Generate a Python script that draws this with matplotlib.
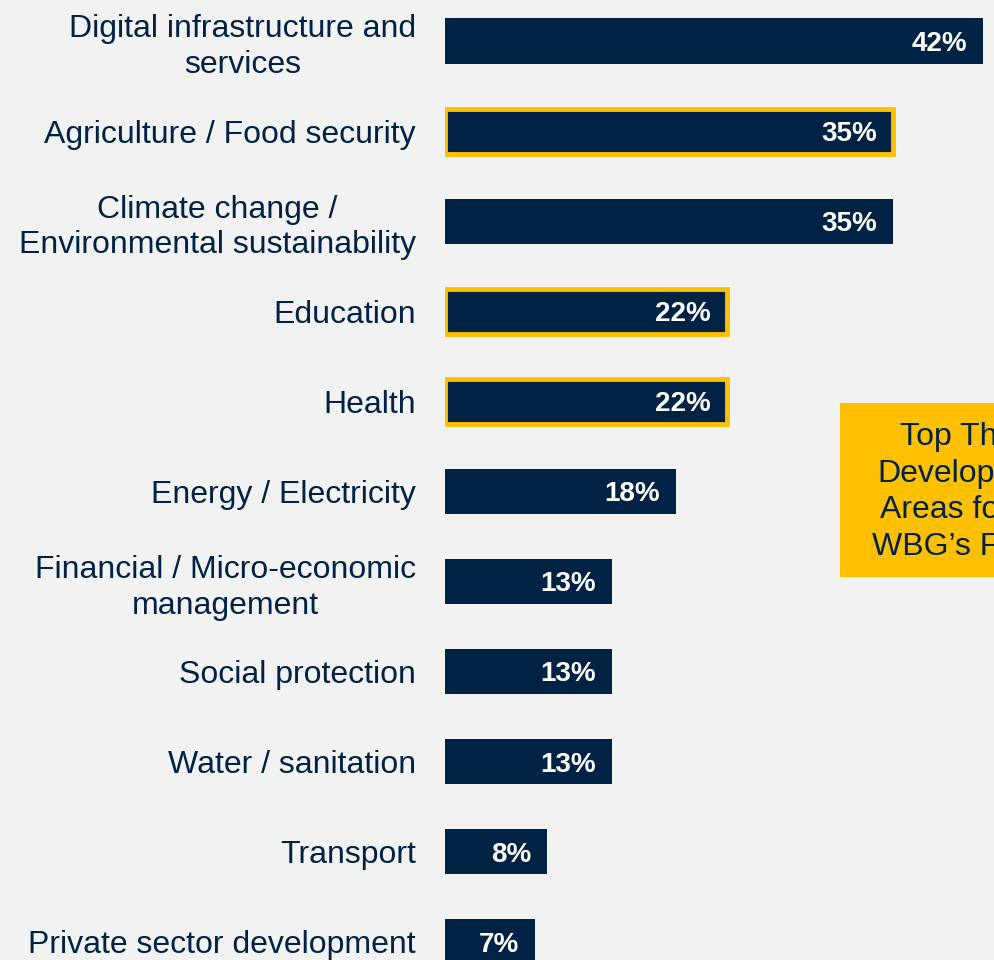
import matplotlib
matplotlib.use("Agg")
import matplotlib.pyplot as plt
from matplotlib.patches import Rectangle

# data
areas = [
    "Digital infrastructure and\nservices",
    "Agriculture / Food security",
    "Climate change /\nEnvironmental sustainability",
    "Education",
    "Health",
    "Energy / Electricity",
    "Financial / Micro-economic\nmanagement",
    "Social protection",
    "Water / sanitation",
    "Transport",
    "Private sector development",
]
shares = [42, 35, 35, 22, 22, 18, 13, 13, 13, 8, 7]
top_three = ["Agriculture / Food security", "Education", "Health"]
callout = "Top Three\nDevelopment\nAreas for the\nWBG\u2019s Future"

navy = "#002244"
gold = "#FFC000"
bg = "#F2F2F2"

plt.rcParams["font.family"] = ["Liberation Sans", "DejaVu Sans"]

W, H = 994, 960
fig = plt.figure(figsize=(W / 100, H / 100), dpi=100)
fig.patch.set_facecolor(bg)

px_per_pct = (983 - 445) / 42.0
ax = fig.add_axes([445 / W, 0, (W - 445) / W, 1])
ax.set_facecolor(bg)

y = list(range(len(areas)))
edge = [gold if a in top_three else navy for a in areas]
lw = [3.5 if a in top_three else 0 for a in areas]
ax.barh(y, shares, height=0.5, color=navy, edgecolor=edge, linewidth=lw)

for yi, v in zip(y, shares):
    ax.annotate(f"{v}%", (v, yi), xytext=(-11.5, -2), textcoords="offset points",
                ha="right", va="center", color="white", fontsize=20,
                fontweight="bold")

ax.set_xlim(0, (W - 445) / px_per_pct)
spacing = 90.1
ax.set_ylim((H - 41) / spacing, -41 / spacing)

ax.set_yticks(y)
ax.set_yticklabels(areas, fontsize=23, color=navy)
for t in ax.get_yticklabels():
    t.set_multialignment("center")
    t.set_linespacing(1.25)
ax.tick_params(axis="y", length=0, pad=21)
ax.set_xticks([])
for s in ax.spines.values():
    s.set_visible(False)

# callout box, runs off the right edge as in the source slide
fig.patches.append(Rectangle((840 / W, (H - 577) / H), 200 / W, 174 / H,
                             transform=fig.transFigure, facecolor=gold,
                             edgecolor="none", zorder=5))
fig.text(972 / W, (H - 492) / H, callout, ha="center", va="center",
         fontsize=23, color=navy, linespacing=1.28, zorder=6)

fig.savefig("out.png", dpi=100, facecolor=bg)
